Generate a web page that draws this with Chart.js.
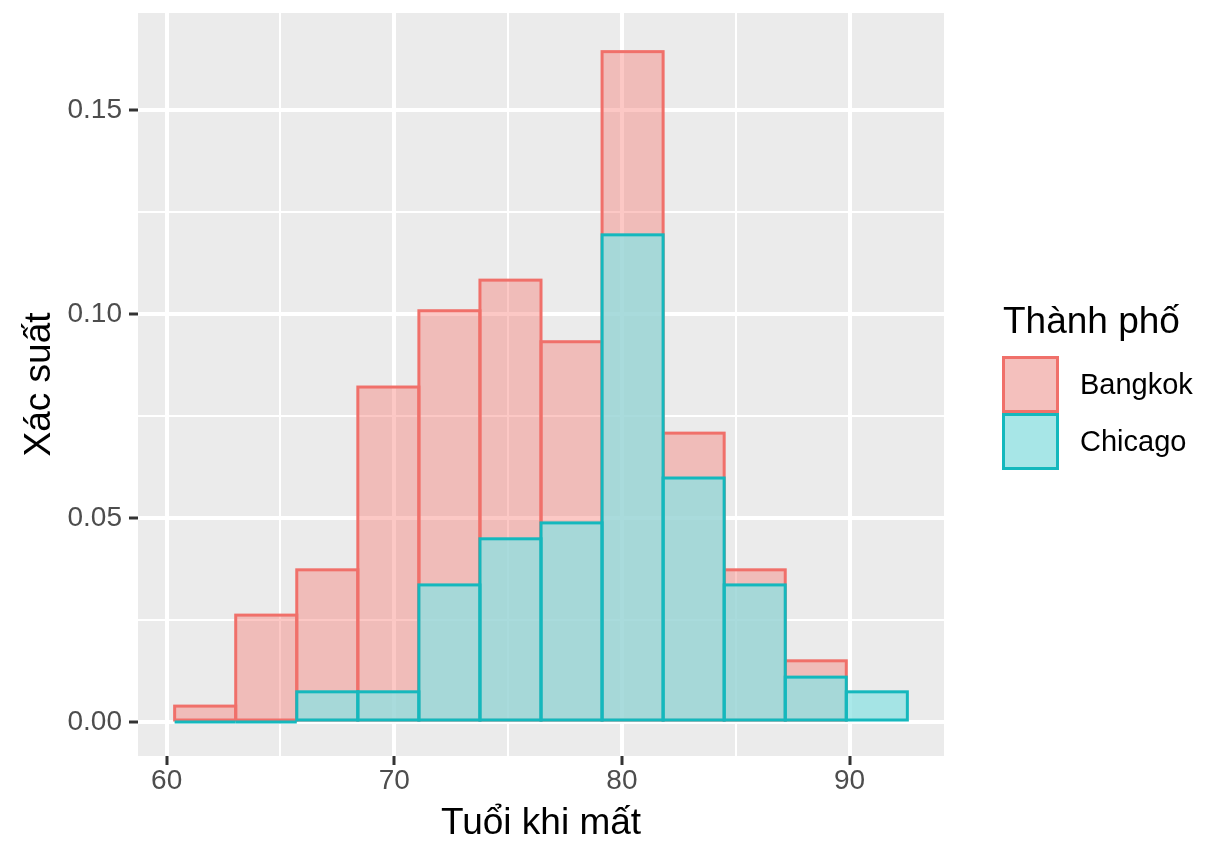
<!DOCTYPE html>
<html>
<head>
<meta charset="utf-8">
<script src="https://cdn.jsdelivr.net/npm/chart.js@4.4.1/dist/chart.umd.min.js"></script>
<style>
html,body{margin:0;padding:0;background:#ffffff;}
#wrap{width:1232px;height:864px;}
</style>
</head>
<body>
<div id="wrap"><canvas id="c" width="1232" height="864"></canvas></div>
<script>
// ---- data ----
const binCenters = [61.691, 64.374, 67.056, 69.739, 72.421, 75.104, 77.786, 80.469, 83.151, 85.834, 88.516, 91.199];
const bangkok    = [0.0039, 0.0262, 0.0373, 0.0821, 0.1008, 0.1083, 0.0932, 0.1643, 0.0708, 0.0373, 0.0150, null];
const chicago    = [0, 0, 0.0074, 0.0074, 0.0336, 0.0449, 0.0488, 0.1194, 0.0598, 0.0336, 0.0110, 0.0074];
const seriesNames = ['Bangkok', 'Chicago'];
const xMajorTicks = [60, 70, 80, 90];
const xMinorTicks = [65, 75, 85];
const yMajorTicks = [0, 0.05, 0.10, 0.15];
const yMinorTicks = [0.025, 0.075, 0.125];
const yTickLabels = ['0.00', '0.05', '0.10', '0.15'];
const xTitle = 'Tuổi khi mất';
const yTitle = 'Xác suất';
const legendTitle = 'Thành phố';
const xRange = [58.74, 94.15];
const yRange = [-0.00833, 0.17377];

// ---- styling ----
const FONT = '"Liberation Sans", Arial, Helvetica, sans-serif';
const fills = ['rgba(248,118,109,0.4)', 'rgba(141,226,227,0.75)'];
const outlines = ['#F0706A', '#14B8BD'];

const panelBg = {
  id: 'panelBg',
  beforeDraw(chart) {
    const {ctx, chartArea: a} = chart;
    ctx.save();
    ctx.fillStyle = '#EBEBEB';
    ctx.fillRect(a.left, a.top, a.right - a.left, a.bottom - a.top);
    ctx.restore();
  }
};

const outlinePlugin = {
  id: 'outline',
  afterDatasetDraw(chart, args) {
    const ds = chart.data.datasets[args.index];
    const ctx = chart.ctx;
    ctx.save();
    ctx.strokeStyle = ds.outlineColor;
    ctx.lineWidth = 3;
    ctx.lineJoin = 'miter';
    args.meta.data.forEach((bar, i) => {
      if (ds.data[i].y === null) return;
      const p = bar.getProps(['x', 'y', 'base', 'width'], true);
      if (!isFinite(p.y) || !isFinite(p.base)) return;
      ctx.strokeRect(p.x - p.width / 2, Math.min(p.y, p.base), p.width, Math.abs(p.base - p.y));
    });
    ctx.restore();
  }
};

const ggLegend = {
  id: 'ggLegend',
  afterDraw(chart) {
    const ctx = chart.ctx;
    ctx.save();
    ctx.fillStyle = '#000000';
    ctx.font = '37px ' + FONT;
    ctx.textAlign = 'left';
    ctx.textBaseline = 'alphabetic';
    ctx.fillText(legendTitle, 1003, 333);
    chart.data.datasets.forEach((ds, i) => {
      const x = 1002, s = 57, y = 356 + i * s;
      ctx.fillStyle = '#F2F2F2';
      ctx.fillRect(x, y, s, s);
      ctx.fillStyle = ds.backgroundColor;
      ctx.fillRect(x, y, s, s);
      ctx.strokeStyle = ds.outlineColor;
      ctx.lineWidth = 3;
      ctx.strokeRect(x + 1.5, y + 1.5, s - 3, s - 3);
      ctx.fillStyle = '#000000';
      ctx.font = '29px ' + FONT;
      ctx.textBaseline = 'middle';
      ctx.fillText(ds.label, 1080, y + s / 2 + 1);
    });
    ctx.restore();
  }
};

const toPoints = arr => arr.map((v, i) => ({x: binCenters[i], y: v}));
const isIn = (arr, v) => arr.some(t => Math.abs(t - v) < 1e-9);

new Chart(document.getElementById('c'), {
  type: 'bar',
  data: {
    datasets: [
      {label: seriesNames[0], data: toPoints(bangkok), backgroundColor: fills[0], outlineColor: outlines[0], borderWidth: 0, order: 2},
      {label: seriesNames[1], data: toPoints(chicago), backgroundColor: fills[1], outlineColor: outlines[1], borderWidth: 0, order: 1}
    ]
  },
  options: {
    responsive: false,
    animation: false,
    devicePixelRatio: 1,
    grouped: false,
    barPercentage: 1,
    categoryPercentage: 1,
    layout: {padding: {left: 0, top: 13, right: 288, bottom: 0}},
    plugins: {legend: {display: false}, tooltip: {enabled: false}},
    scales: {
      x: {
        type: 'linear',
        min: xRange[0], max: xRange[1],
        offset: false,
        afterBuildTicks: s => { s.ticks = [...xMajorTicks, ...xMinorTicks].sort((a, b) => a - b).map(v => ({value: v})); },
        afterFit: s => { s.height = 108; s.paddingLeft = 0; s.paddingRight = 0; },
        ticks: {
          autoSkip: false, maxRotation: 0, minRotation: 0, padding: 2,
          color: '#4D4D4D', font: {family: FONT, size: 28, lineHeight: 1},
          callback: v => isIn(xMajorTicks, v) ? String(v) : ''
        },
        grid: {
          offset: false, color: '#FFFFFF',
          lineWidth: c => (c.tick && isIn(xMajorTicks, c.tick.value)) ? 4 : 2,
          drawTicks: true, tickLength: 9, tickWidth: 3,
          tickColor: c => (c.tick && isIn(xMajorTicks, c.tick.value)) ? '#333333' : 'rgba(0,0,0,0)'
        },
        border: {display: false},
        title: {display: true, text: xTitle, color: '#000000', font: {family: FONT, size: 37, lineHeight: 1}, padding: {top: 0, bottom: 22}}
      },
      y: {
        type: 'linear',
        min: yRange[0], max: yRange[1],
        afterBuildTicks: s => { s.ticks = [...yMajorTicks, ...yMinorTicks].sort((a, b) => a - b).map(v => ({value: v})); },
        afterFit: s => { s.width = 138; s.paddingTop = 0; s.paddingBottom = 0; },
        ticks: {
          autoSkip: false, padding: 7,
          color: '#4D4D4D', font: {family: FONT, size: 28, lineHeight: 1},
          callback: v => { const k = yMajorTicks.findIndex(t => Math.abs(t - v) < 1e-9); return k >= 0 ? yTickLabels[k] : ''; }
        },
        grid: {
          color: '#FFFFFF',
          lineWidth: c => (c.tick && isIn(yMajorTicks, c.tick.value)) ? 4 : 2,
          drawTicks: true, tickLength: 9, tickWidth: 3,
          tickColor: c => (c.tick && isIn(yMajorTicks, c.tick.value)) ? '#333333' : 'rgba(0,0,0,0)'
        },
        border: {display: false},
        title: {display: true, text: yTitle, color: '#000000', font: {family: FONT, size: 37, lineHeight: 1}, padding: {top: 21, bottom: 0}}
      }
    }
  },
  plugins: [panelBg, outlinePlugin, ggLegend]
});
</script>
</body>
</html>
